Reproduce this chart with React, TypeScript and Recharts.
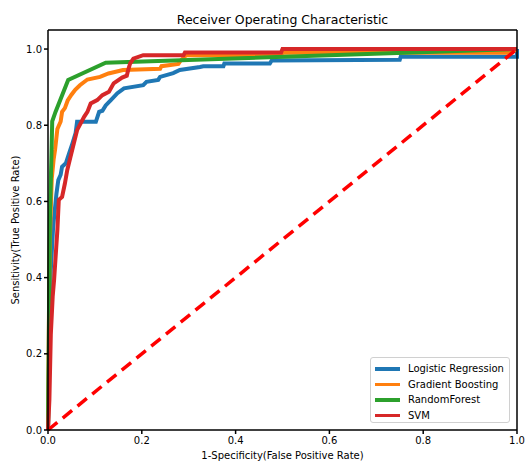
import { LineChart, Line, XAxis, YAxis, ReferenceLine } from "recharts";

const FONT = "'DejaVu Sans', sans-serif";

const xTicks = [0, 0.2, 0.4, 0.6, 0.8, 1.0];
const yTicks = [0, 0.2, 0.4, 0.6, 0.8, 1.0];

// Logistic Regression
const lrFpr = [0, 0.003, 0.006, 0.011, 0.018, 0.022, 0.027, 0.03, 0.038, 0.045, 0.052, 0.059, 0.062, 0.102, 0.109, 0.116, 0.123, 0.134, 0.148, 0.162, 0.203, 0.21, 0.235, 0.239, 0.267, 0.281, 0.324, 0.331, 0.374, 0.376, 0.473, 0.477, 0.75, 0.752, 1, 1];
const lrTpr = [0, 0.25, 0.42, 0.534, 0.62, 0.656, 0.67, 0.691, 0.7, 0.726, 0.752, 0.78, 0.809, 0.809, 0.835, 0.838, 0.852, 0.866, 0.884, 0.897, 0.905, 0.914, 0.919, 0.927, 0.937, 0.945, 0.953, 0.955, 0.955, 0.962, 0.962, 0.97, 0.972, 0.98, 0.98, 1];

// Gradient Boosting
const gbFpr = [0, 0.002, 0.004, 0.008, 0.012, 0.015, 0.02, 0.027, 0.03, 0.036, 0.042, 0.05, 0.058, 0.068, 0.084, 0.111, 0.129, 0.16, 0.239, 0.242, 0.278, 0.283, 0.295, 0.497, 0.5, 0.985, 1];
const gbTpr = [0, 0.3, 0.5, 0.66, 0.71, 0.735, 0.79, 0.81, 0.835, 0.845, 0.865, 0.88, 0.893, 0.905, 0.92, 0.927, 0.936, 0.945, 0.948, 0.955, 0.961, 0.97, 0.984, 0.984, 0.99, 0.99, 1];

// RandomForest
const rfFpr = [0, 0.004, 0.009, 0.016, 0.043, 0.123, 1];
const rfTpr = [0, 0.55, 0.81, 0.835, 0.919, 0.964, 1];

// SVM
const svmFpr = [0, 0.003, 0.006, 0.01, 0.013, 0.02, 0.023, 0.03, 0.036, 0.041, 0.048, 0.055, 0.062, 0.077, 0.084, 0.091, 0.105, 0.116, 0.13, 0.14, 0.158, 0.168, 0.171, 0.175, 0.182, 0.203, 0.289, 0.292, 0.497, 0.5, 1];
const svmTpr = [0, 0.08, 0.25, 0.35, 0.394, 0.525, 0.604, 0.612, 0.647, 0.682, 0.717, 0.752, 0.787, 0.822, 0.835, 0.857, 0.866, 0.879, 0.888, 0.91, 0.925, 0.93, 0.945, 0.962, 0.975, 0.984, 0.984, 0.991, 0.991, 1, 1];

const diagFpr = [0, 1];
const diagTpr = [0, 1];

const zip = (xs: number[], ys: number[]) => xs.map((x, i) => ({ x, y: ys[i] }));

const series = [
  { name: "Logistic Regression", color: "#1f77b4", data: zip(lrFpr, lrTpr) },
  { name: "Gradient Boosting", color: "#ff7f0e", data: zip(gbFpr, gbTpr) },
  { name: "RandomForest", color: "#2ca02c", data: zip(rfFpr, rfTpr) },
  { name: "SVM", color: "#d62728", data: zip(svmFpr, svmTpr) },
];

const tickStyle = { fontSize: 10, fill: "#000", fontFamily: FONT };

export default function App() {
  return (
    <div style={{ position: "absolute", left: 0, top: 0, width: 526, height: 461, fontFamily: FONT }}>
      <div style={{ position: "absolute", left: 48, width: 469, top: 12, textAlign: "center", fontSize: 12.5, lineHeight: "15px" }}>
        Receiver Operating Characteristic
      </div>
      <div
        style={{
          position: "absolute",
          left: 15,
          top: 230,
          transform: "translate(-50%, -50%) rotate(-90deg)",
          fontSize: 10,
          whiteSpace: "nowrap",
        }}
      >
        Sensitivity(True Positive Rate)
      </div>
      <LineChart width={526} height={461} margin={{ top: 30, right: 9, left: 8, bottom: 0 }}>
        <XAxis
          type="number"
          dataKey="x"
          domain={[0, 1]}
          ticks={xTicks}
          tickFormatter={(v: number) => v.toFixed(1)}
          tick={tickStyle}
          tickSize={4}
          tickMargin={3}
          height={31}
          stroke="#000"
          strokeWidth={1.5}
          label={{ value: "1-Specificity(False Positive Rate)", position: "insideBottom", offset: 2, style: { fontSize: 10, fill: "#000", fontFamily: FONT } }}
        />
        <YAxis
          type="number"
          dataKey="y"
          domain={[0, 1.05]}
          ticks={yTicks}
          tickFormatter={(v: number) => v.toFixed(1)}
          tick={tickStyle}
          tickSize={4}
          tickMargin={2}
          width={40}
          stroke="#000"
          strokeWidth={1.5}
        />
        {series.map((s) => (
          <Line
            key={s.name}
            data={s.data}
            dataKey="y"
            name={s.name}
            type="linear"
            stroke={s.color}
            strokeWidth={4}
            dot={false}
            activeDot={false}
            isAnimationActive={false}
          />
        ))}
        <Line
          data={zip(diagFpr, diagTpr)}
          dataKey="y"
          type="linear"
          stroke="#ff0000"
          strokeWidth={3.5}
          strokeDasharray="12 7"
          dot={false}
          activeDot={false}
          isAnimationActive={false}
        />
        <ReferenceLine x={1} stroke="#000" strokeWidth={1.5} />
        <ReferenceLine y={1.05} stroke="#000" strokeWidth={1.5} />
      </LineChart>
      <div
        style={{
          position: "absolute",
          left: 370,
          top: 357,
          width: 140,
          height: 66,
          border: "1px solid #d0d0d0",
          borderRadius: 3,
          background: "rgba(255,255,255,0.85)",
          boxSizing: "border-box",
          padding: "3px 0 0 4px",
        }}
      >
        {series.map((s) => (
          <div key={s.name} style={{ display: "flex", alignItems: "center", height: 15.5, fontSize: 10 }}>
            <span style={{ display: "inline-block", width: 25, height: 3.5, background: s.color, marginRight: 8 }} />
            <span>{s.name}</span>
          </div>
        ))}
      </div>
    </div>
  );
}
